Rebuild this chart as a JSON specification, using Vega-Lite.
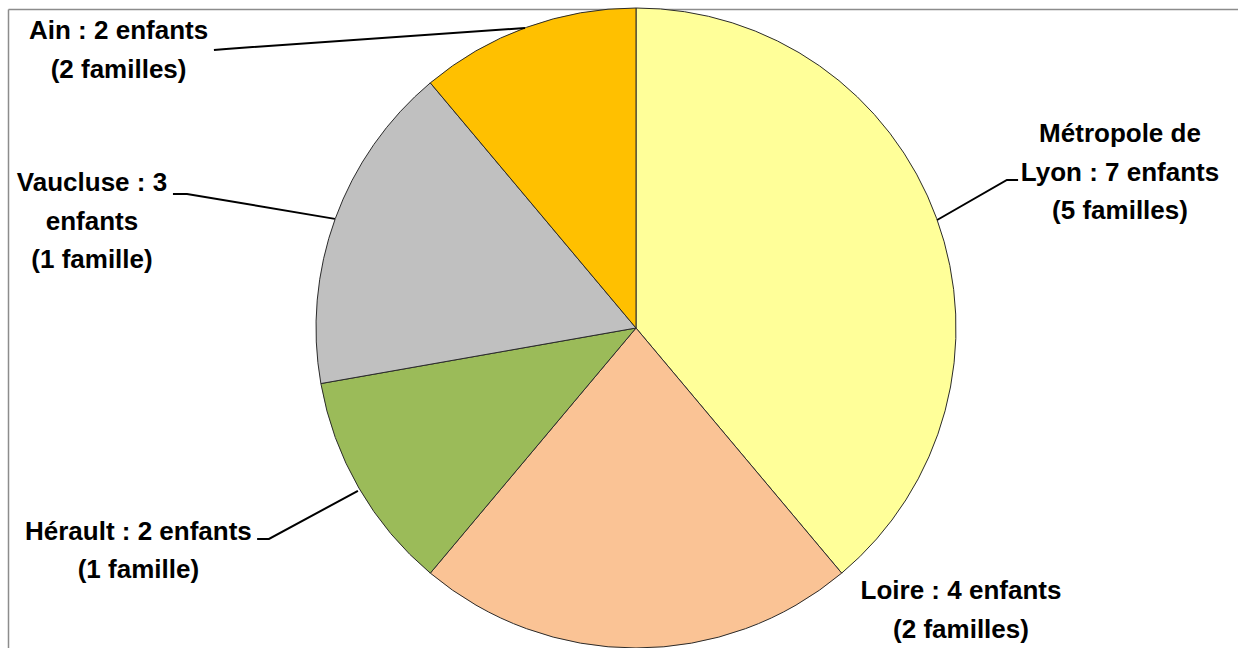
{
  "$schema": "https://vega.github.io/schema/vega-lite/v6.json",
  "autosize": {"type": "none"},
  "width": 1230,
  "height": 639,
  "padding": {"left": 8, "top": 9, "right": 0, "bottom": 0},
  "background": "white",
  "config": {"view": {"stroke": null}},
  "datasets": {
    "slices": [
      {"name": "Métropole de Lyon", "enfants": 7, "familles": 5, "ord": 1},
      {"name": "Loire", "enfants": 4, "familles": 2, "ord": 2},
      {"name": "Hérault", "enfants": 2, "familles": 1, "ord": 3},
      {"name": "Vaucluse", "enfants": 3, "familles": 1, "ord": 4},
      {"name": "Ain", "enfants": 2, "familles": 2, "ord": 5}
    ],
    "labels": [
      {"name": "Métropole de Lyon", "label": "Métropole de\nLyon : 7 enfants\n(5 familles)", "lx": 1.5125, "ly": 0.606},
      {"name": "Loire", "label": "Loire : 4 enfants\n(2 familles)", "lx": 1.0156, "ly": -0.822},
      {"name": "Hérault", "label": "Hérault : 2 enfants\n(1 famille)", "lx": -1.555, "ly": -0.636},
      {"name": "Vaucluse", "label": "Vaucluse : 3\nenfants\n(1 famille)", "lx": -1.7, "ly": 0.453},
      {"name": "Ain", "label": "Ain : 2 enfants\n(2 familles)", "lx": -1.617, "ly": 0.928}
    ],
    "leaders": [
      {"name": "Métropole de Lyon", "seq": 1, "lx": 0.941, "ly": 0.3375},
      {"name": "Métropole de Lyon", "seq": 2, "lx": 1.159, "ly": 0.4625},
      {"name": "Métropole de Lyon", "seq": 3, "lx": 1.194, "ly": 0.4625},
      {"name": "Hérault", "seq": 1, "lx": -0.869, "ly": -0.509},
      {"name": "Hérault", "seq": 2, "lx": -1.147, "ly": -0.659},
      {"name": "Hérault", "seq": 3, "lx": -1.184, "ly": -0.659},
      {"name": "Vaucluse", "seq": 1, "lx": -0.941, "ly": 0.341},
      {"name": "Vaucluse", "seq": 2, "lx": -1.403, "ly": 0.419},
      {"name": "Vaucluse", "seq": 3, "lx": -1.447, "ly": 0.419},
      {"name": "Ain", "seq": 1, "lx": -0.347, "ly": 0.9375},
      {"name": "Ain", "seq": 2, "lx": -1.281, "ly": 0.872},
      {"name": "Ain", "seq": 3, "lx": -1.319, "ly": 0.869}
    ]
  },
  "layer": [
    {
      "data": {"name": "slices"},
      "mark": {"type": "arc", "outerRadius": 320, "stroke": "#2b2b2b", "strokeWidth": 1},
      "encoding": {
        "x": {"datum": 0, "type": "quantitative", "scale": {"domain": [-1.9625, 1.88125], "nice": false, "zero": false}, "axis": {"orient": "top", "labels": false, "ticks": false, "grid": false, "title": null, "domainColor": "#8c8c8c", "domainWidth": 1.5}},
        "y": {"datum": 0, "type": "quantitative", "scale": {"domain": [-1.0, 0.996875], "nice": false, "zero": false}, "axis": {"orient": "left", "labels": false, "ticks": false, "grid": false, "title": null, "domainColor": "#8c8c8c", "domainWidth": 1.5}},
        "theta": {"field": "enfants", "type": "quantitative", "stack": true},
        "order": {"field": "ord", "type": "quantitative"},
        "color": {
          "field": "name", "type": "nominal", "legend": null,
          "scale": {
            "domain": ["Métropole de Lyon", "Loire", "Hérault", "Vaucluse", "Ain"],
            "range": ["#FFFF99", "#FAC395", "#9BBB59", "#C0C0C0", "#FFC000"]
          }
        }
      }
    },
    {
      "data": {"name": "leaders"},
      "mark": {"type": "line", "color": "#000000", "strokeWidth": 2},
      "encoding": {
        "x": {"field": "lx", "type": "quantitative", "scale": {"domain": [-1.9625, 1.88125], "nice": false, "zero": false}, "axis": {"orient": "top", "labels": false, "ticks": false, "grid": false, "title": null, "domainColor": "#8c8c8c", "domainWidth": 1.5}},
        "y": {"field": "ly", "type": "quantitative", "scale": {"domain": [-1.0, 0.996875], "nice": false, "zero": false}, "axis": {"orient": "left", "labels": false, "ticks": false, "grid": false, "title": null, "domainColor": "#8c8c8c", "domainWidth": 1.5}},
        "detail": {"field": "name", "type": "nominal"},
        "order": {"field": "seq", "type": "quantitative"}
      }
    },
    {
      "data": {"name": "labels"},
      "mark": {"type": "text", "align": "center", "baseline": "middle", "lineBreak": "\n", "lineHeight": 38.5, "font": "Liberation Sans, Arial, sans-serif", "fontSize": 26, "fontWeight": "bold", "color": "#000000"},
      "encoding": {
        "x": {"field": "lx", "type": "quantitative", "scale": {"domain": [-1.9625, 1.88125], "nice": false, "zero": false}, "axis": {"orient": "top", "labels": false, "ticks": false, "grid": false, "title": null, "domainColor": "#8c8c8c", "domainWidth": 1.5}},
        "y": {"field": "ly", "type": "quantitative", "scale": {"domain": [-1.0, 0.996875], "nice": false, "zero": false}, "axis": {"orient": "left", "labels": false, "ticks": false, "grid": false, "title": null, "domainColor": "#8c8c8c", "domainWidth": 1.5}},
        "text": {"field": "label", "type": "nominal"}
      }
    }
  ]
}
